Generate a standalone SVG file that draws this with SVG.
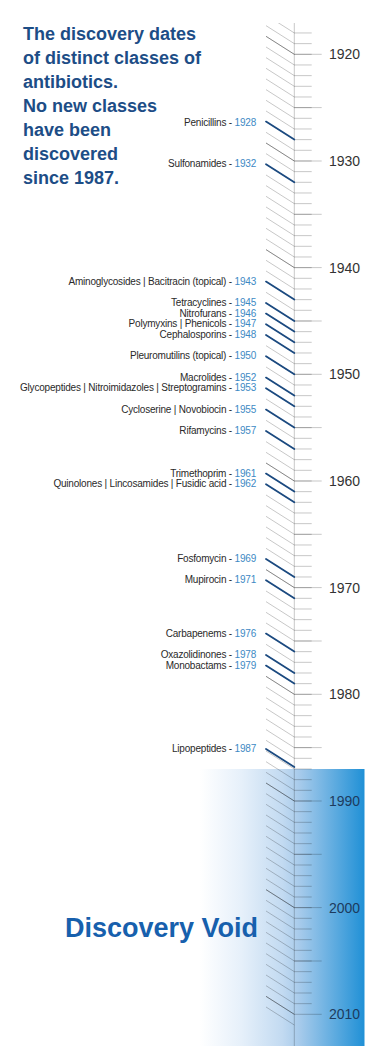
<svg xmlns="http://www.w3.org/2000/svg" width="375" height="1061" viewBox="0 0 375 1061">
<style>
.ttl{font-family:"Liberation Sans",Arial,sans-serif;font-weight:bold;font-size:18px;fill:#1d4d86}
.lbl{font-family:"Liberation Sans",Arial,sans-serif;font-size:10px;letter-spacing:-0.2px;fill:#2a2a2a;text-anchor:end}
.yr{fill:#3d89c4}
.dec{font-family:"Liberation Sans",Arial,sans-serif;font-size:14px;fill:#333}
.decv{fill:#1d3b5e}
.nav{stroke:#1b4a80;stroke-width:1.8;fill:none;stroke-linecap:round}
.tk{stroke:#000;stroke-opacity:0.22;stroke-width:1;fill:none}
.tkd{stroke:#000;stroke-opacity:0.32;stroke-width:1;fill:none}
</style>
<defs>
<linearGradient id="void" gradientUnits="userSpaceOnUse" x1="200" y1="0" x2="365" y2="0">
<stop offset="0" stop-color="#ffffff"/>
<stop offset="0.25" stop-color="#e6f0fa"/>
<stop offset="0.5" stop-color="#c2daf1"/>
<stop offset="0.6" stop-color="#a8cbeb"/>
<stop offset="1" stop-color="#1f90d6"/>
</linearGradient>
<clipPath id="axclip"><rect x="0" y="23" width="375" height="1023"/></clipPath>
</defs>
<rect width="375" height="1061" fill="#fff"/>
<g id="void-box"><rect x="200" y="769" width="164.5" height="277" fill="url(#void)"/></g>
<g id="title">
<text class="ttl" x="23" y="39.5">The discovery dates</text>
<text class="ttl" x="23" y="63.6">of distinct classes of</text>
<text class="ttl" x="23" y="87.7">antibiotics.</text>
<text class="ttl" x="23" y="111.8">No new classes</text>
<text class="ttl" x="23" y="135.9">have been</text>
<text class="ttl" x="23" y="160">discovered</text>
<text class="ttl" x="23" y="184.1">since 1987.</text>
</g>
<g id="timeline">
<g clip-path="url(#axclip)">
<path class="tk" d="M294.3 22.3h17.4m-17.4 10.667h17.4m-17.4 10.667h17.4m-17.4 10.667h17.4m-17.4 10.667h17.4m-17.4 10.667h17.4m-17.4 10.667h17.4m-17.4 10.667h17.4m-17.4 10.667h17.4m-17.4 10.667h17.4m-17.4 10.667h17.4m-17.4 10.667h17.4m-17.4 10.667h17.4m-17.4 10.667h17.4m-17.4 10.667h17.4m-17.4 10.667h17.4m-17.4 10.667h17.4m-17.4 10.667h17.4m-17.4 10.667h17.4m-17.4 10.667h17.4m-17.4 10.667h17.4m-17.4 10.667h17.4m-17.4 10.667h17.4m-17.4 10.667h17.4m-17.4 10.667h17.4m-17.4 10.667h17.4m-17.4 10.667h17.4m-17.4 10.667h17.4m-17.4 10.667h17.4m-17.4 10.667h17.4m-17.4 10.667h17.4m-17.4 10.667h17.4m-17.4 10.667h17.4m-17.4 10.667h17.4m-17.4 10.667h17.4m-17.4 10.667h17.4m-17.4 10.667h17.4m-17.4 10.667h17.4m-17.4 10.667h17.4m-17.4 10.667h17.4m-17.4 10.667h17.4m-17.4 10.667h17.4m-17.4 10.667h17.4m-17.4 10.667h17.4m-17.4 10.667h17.4m-17.4 10.667h17.4m-17.4 10.667h17.4m-17.4 10.667h17.4m-17.4 10.667h17.4m-17.4 10.667h17.4m-17.4 10.667h17.4m-17.4 10.667h17.4m-17.4 10.667h17.4m-17.4 10.667h17.4m-17.4 10.667h17.4m-17.4 10.667h17.4m-17.4 10.667h17.4m-17.4 10.667h17.4m-17.4 10.667h17.4m-17.4 10.667h17.4m-17.4 10.667h17.4m-17.4 10.667h17.4m-17.4 10.667h17.4m-17.4 10.667h17.4m-17.4 10.667h17.4m-17.4 10.667h17.4m-17.4 10.667h17.4m-17.4 10.667h17.4m-17.4 10.667h17.4m-17.4 10.667h17.4m-17.4 10.667h17.4m-17.4 10.667h17.4m-17.4 10.667h17.4m-17.4 10.667h17.4m-17.4 10.667h17.4m-17.4 10.667h17.4m-17.4 10.667h17.4m-17.4 10.667h17.4m-17.4 10.667h17.4m-17.4 10.667h17.4m-17.4 10.667h17.4m-17.4 10.667h17.4m-17.4 10.667h17.4m-17.4 10.667h17.4m-17.4 10.667h17.4m-17.4 10.667h17.4m-17.4 10.667h17.4m-17.4 10.667h17.4m-17.4 10.667h17.4m-17.4 10.667h17.4m-17.4 10.667h17.4m-17.4 10.667h17.4m-17.4 10.667h17.4"/>
<path class="tk" d="M266 4.3l28.3 18m-28.3-7.333l28.3 18m-28.3-7.333l28.3 18m-28.3-7.333l28.3 18m-28.3-7.333l28.3 18m-28.3-7.333l28.3 18m-28.3-7.333l28.3 18m-28.3-7.333l28.3 18m-28.3-7.333l28.3 18m-28.3-7.333l28.3 18m-28.3-7.333l28.3 18m-28.3-7.333l28.3 18m-28.3-7.333l28.3 18m-28.3-7.333l28.3 18m-28.3-7.333l28.3 18m-28.3-7.333l28.3 18m-28.3-7.333l28.3 18m-28.3-7.333l28.3 18m-28.3-7.333l28.3 18m-28.3-7.333l28.3 18m-28.3-7.333l28.3 18m-28.3-7.333l28.3 18m-28.3-7.333l28.3 18m-28.3-7.333l28.3 18m-28.3-7.333l28.3 18m-28.3-7.333l28.3 18m-28.3-7.333l28.3 18m-28.3-7.333l28.3 18m-28.3-7.333l28.3 18m-28.3-7.333l28.3 18m-28.3-7.333l28.3 18m-28.3-7.333l28.3 18m-28.3-7.333l28.3 18m-28.3-7.333l28.3 18m-28.3-7.333l28.3 18m-28.3-7.333l28.3 18m-28.3-7.333l28.3 18m-28.3-7.333l28.3 18m-28.3-7.333l28.3 18m-28.3-7.333l28.3 18m-28.3-7.333l28.3 18m-28.3-7.333l28.3 18m-28.3-7.333l28.3 18m-28.3-7.333l28.3 18m-28.3-7.333l28.3 18m-28.3-7.333l28.3 18m-28.3-7.333l28.3 18m-28.3-7.333l28.3 18m-28.3-7.333l28.3 18m-28.3-7.333l28.3 18m-28.3-7.333l28.3 18m-28.3-7.333l28.3 18m-28.3-7.333l28.3 18m-28.3-7.333l28.3 18m-28.3-7.333l28.3 18m-28.3-7.333l28.3 18m-28.3-7.333l28.3 18m-28.3-7.333l28.3 18m-28.3-7.333l28.3 18m-28.3-7.333l28.3 18m-28.3-7.333l28.3 18m-28.3-7.333l28.3 18m-28.3-7.333l28.3 18m-28.3-7.333l28.3 18m-28.3-7.333l28.3 18m-28.3-7.333l28.3 18m-28.3-7.333l28.3 18m-28.3-7.333l28.3 18m-28.3-7.333l28.3 18m-28.3-7.333l28.3 18m-28.3-7.333l28.3 18m-28.3-7.333l28.3 18m-28.3-7.333l28.3 18m-28.3-7.333l28.3 18m-28.3-7.333l28.3 18m-28.3-7.333l28.3 18m-28.3-7.333l28.3 18m-28.3-7.333l28.3 18m-28.3-7.333l28.3 18m-28.3-7.333l28.3 18m-28.3-7.333l28.3 18m-28.3-7.333l28.3 18m-28.3-7.333l28.3 18m-28.3-7.333l28.3 18m-28.3-7.333l28.3 18m-28.3-7.333l28.3 18m-28.3-7.333l28.3 18m-28.3-7.333l28.3 18m-28.3-7.333l28.3 18m-28.3-7.333l28.3 18m-28.3-7.333l28.3 18m-28.3-7.333l28.3 18m-28.3-7.333l28.3 18m-28.3-7.333l28.3 18m-28.3-7.333l28.3 18"/>
</g>
<path class="tkd" d="M266 36.3l28.3 18M266 143l28.3 18M266 249.6l28.3 18M266 356.3l28.3 18M266 463l28.3 18M266 569.6l28.3 18M266 676.3l28.3 18M266 783l28.3 18M266 889.6l28.3 18M266 996.3l28.3 18"/>
<path class="tk" d="M294.3 54.3H321.7M294.3 107.6H321.7M294.3 161H321.7M294.3 214.3H321.7M294.3 267.6H321.7M294.3 321H321.7M294.3 374.3H321.7M294.3 427.6H321.7M294.3 481H321.7M294.3 534.3H321.7M294.3 587.6H321.7M294.3 641H321.7M294.3 694.3H321.7M294.3 747.6H321.7M294.3 801H321.7M294.3 854.3H321.7M294.3 907.6H321.7M294.3 961H321.7M294.3 1014.3H321.7"/>
<line class="tk" x1="294.3" y1="23" x2="294.3" y2="1046"/>
<text class="dec" x="329" y="59.3">1920</text>
<text class="dec" x="329" y="166">1930</text>
<text class="dec" x="329" y="272.6">1940</text>
<text class="dec" x="329" y="379.3">1950</text>
<text class="dec" x="329" y="486">1960</text>
<text class="dec" x="329" y="592.6">1970</text>
<text class="dec" x="329" y="699.3">1980</text>
<text class="dec decv" x="329" y="806">1990</text>
<text class="dec decv" x="329" y="912.6">2000</text>
<text class="dec decv" x="329" y="1019.3">2010</text>
</g>
<g id="discoveries">
<g id="d1928"><path class="nav" d="M266 121.6l28.3 18"/><text class="lbl" x="256" y="125.6">Penicillins - <tspan class="yr">1928</tspan></text></g>
<g id="d1932"><path class="nav" d="M266 164.3l28.3 18"/><text class="lbl" x="256" y="167.3">Sulfonamides - <tspan class="yr">1932</tspan></text></g>
<g id="d1943"><path class="nav" d="M266 281.6l28.3 18"/><text class="lbl" x="256" y="284.6">Aminoglycosides | Bacitracin (topical) - <tspan class="yr">1943</tspan></text></g>
<g id="d1945"><path class="nav" d="M266 303l28.3 18"/><text class="lbl" x="256" y="306">Tetracyclines - <tspan class="yr">1945</tspan></text></g>
<g id="d1946"><path class="nav" d="M266 313.6l28.3 18"/><text class="lbl" x="256" y="316.6">Nitrofurans - <tspan class="yr">1946</tspan></text></g>
<g id="d1947"><path class="nav" d="M266 324.3l28.3 18"/><text class="lbl" x="256" y="327.3">Polymyxins | Phenicols - <tspan class="yr">1947</tspan></text></g>
<g id="d1948"><path class="nav" d="M266 335l28.3 18"/><text class="lbl" x="256" y="338">Cephalosporins - <tspan class="yr">1948</tspan></text></g>
<g id="d1950"><path class="nav" d="M266 356.3l28.3 18"/><text class="lbl" x="256" y="359.3">Pleuromutilins (topical) - <tspan class="yr">1950</tspan></text></g>
<g id="d1952"><path class="nav" d="M266 377.6l28.3 18"/><text class="lbl" x="256" y="380.6">Macrolides - <tspan class="yr">1952</tspan></text></g>
<g id="d1953"><path class="nav" d="M266 388.3l28.3 18"/><text class="lbl" x="256" y="391.3">Glycopeptides | Nitroimidazoles | Streptogramins - <tspan class="yr">1953</tspan></text></g>
<g id="d1955"><path class="nav" d="M266 409.6l28.3 18"/><text class="lbl" x="256" y="412.6">Cycloserine | Novobiocin - <tspan class="yr">1955</tspan></text></g>
<g id="d1957"><path class="nav" d="M266 431l28.3 18"/><text class="lbl" x="256" y="434">Rifamycins - <tspan class="yr">1957</tspan></text></g>
<g id="d1961"><path class="nav" d="M266 473.6l28.3 18"/><text class="lbl" x="256" y="476.6">Trimethoprim - <tspan class="yr">1961</tspan></text></g>
<g id="d1962"><path class="nav" d="M266 484.3l28.3 18"/><text class="lbl" x="256" y="487.3">Quinolones | Lincosamides | Fusidic acid - <tspan class="yr">1962</tspan></text></g>
<g id="d1969"><path class="nav" d="M266 559l28.3 18"/><text class="lbl" x="256" y="562">Fosfomycin - <tspan class="yr">1969</tspan></text></g>
<g id="d1971"><path class="nav" d="M266 580.3l28.3 18"/><text class="lbl" x="256" y="583.3">Mupirocin - <tspan class="yr">1971</tspan></text></g>
<g id="d1976"><path class="nav" d="M266 633.6l28.3 18"/><text class="lbl" x="256" y="636.6">Carbapenems - <tspan class="yr">1976</tspan></text></g>
<g id="d1978"><path class="nav" d="M266 655l28.3 18"/><text class="lbl" x="256" y="658">Oxazolidinones - <tspan class="yr">1978</tspan></text></g>
<g id="d1979"><path class="nav" d="M266 665.6l28.3 18"/><text class="lbl" x="256" y="668.6">Monobactams - <tspan class="yr">1979</tspan></text></g>
<g id="d1987"><path class="nav" d="M266 749l28.3 18"/><text class="lbl" x="256" y="752">Lipopeptides - <tspan class="yr">1987</tspan></text></g>
</g>
<g id="void-label"><text x="65" y="936.5" style="font-family:'Liberation Sans',Arial,sans-serif;font-weight:bold;font-size:27px;fill:#1760ad">Discovery Void</text></g>
</svg>
